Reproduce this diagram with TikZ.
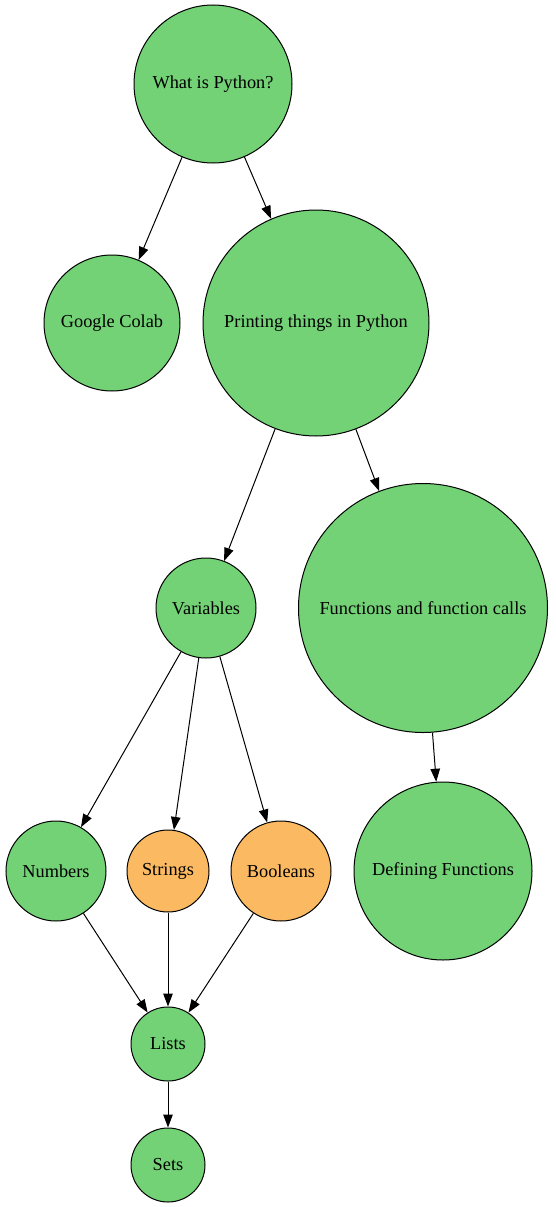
\documentclass[tikz,border=0pt]{standalone}
\usepackage{fontspec}
\setmainfont{Liberation Serif}
\usetikzlibrary{arrows.meta}
\definecolor{topicgreen}{HTML}{72D275}
\definecolor{topicorange}{HTML}{FBBA62}

\begin{document}
\begin{tikzpicture}[x=1pt,y=-1pt]
			\tikzstyle{every node}+=[inner sep=0pt,font=\fontsize{18.3}{22}\selectfont]
			\tikzstyle{topic}=[circle,draw=black,line width=1pt,fill=topicgreen]
			\tikzstyle{extra}=[topic,fill=topicorange]
			\tikzstyle{link}=[line width=1pt,-{Triangle[length=13pt,width=9.5pt]}]
			\useasboundingbox (0,0) rectangle (555,1207);
			% topics
			\node [topic,minimum size=158pt] (python) at (213,84) {What is Python?};
			\node [topic,minimum size=136pt] (colab) at (112,323) {Google Colab};
			\node [topic,minimum size=226pt] (printing) at (316,323) {Printing things in Python};
			\node [topic,minimum size=100pt] (variables) at (206,608) {Variables};
			\node [topic,minimum size=249pt] (functions) at (423,608) {Functions and function calls};
			\node [topic,minimum size=100pt] (numbers) at (56,871) {Numbers};
			\node [extra,minimum size=82pt] (strings) at (168,871) {Strings};
			\node [extra,minimum size=100pt] (booleans) at (281,871) {Booleans};
			\node [topic,minimum size=178pt] (defining) at (443,871) {Defining Functions};
			\node [topic,minimum size=74pt] (lists) at (168,1044) {Lists};
			\node [topic,minimum size=74pt] (sets) at (168,1165) {Sets};
			% links
			\draw [link] (python) -- (colab);
			\draw [link] (python) -- (printing);
			\draw [link] (printing) -- (variables);
			\draw [link] (printing) -- (functions);
			\draw [link] (variables) -- (numbers);
			\draw [link] (variables) -- (strings);
			\draw [link] (variables) -- (booleans);
			\draw [link] (functions) -- (defining);
			\draw [link] (numbers) -- (lists);
			\draw [link] (strings) -- (lists);
			\draw [link] (booleans) -- (lists);
			\draw [link] (lists) -- (sets);
		\end{tikzpicture}
\end{document}
